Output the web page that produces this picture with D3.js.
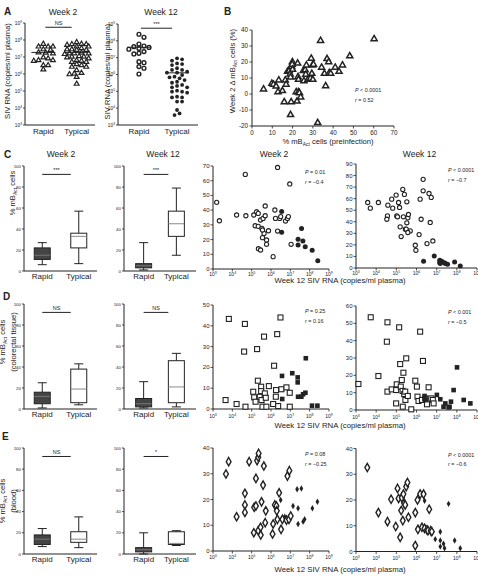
<!DOCTYPE html>
<html><head><meta charset="utf-8">
<script src="https://cdn.jsdelivr.net/npm/d3@7"></script>
<style>body{margin:0;background:#fff}svg{display:block}text{font-family:"Liberation Sans",Arial,Helvetica,sans-serif;fill:#222}</style>
</head><body><svg id="c" width="478" height="576"></svg>
<script>
// ---------------- DATA ----------------
const groups = ["Rapid", "Typical"];
const decadeTicks = [3, 4, 5, 6, 7, 8, 9];

// Panel A: log10 SIV RNA (copies/ml plasma)
const aW2Rapid = [7.77,7.61,7.45,7.61,7.41,7.61,7.27,7.21,7.25,6.91,6.81,6.81,6.97,6.51,6.51,6.26,6.77];
const aW2Typical = [7.87,7.75,7.75,7.61,7.71,7.77,7.51,7.45,7.41,7.41,7.45,7.25,7.21,7.17,7.21,7.05,6.97,7.01,6.91,7.01,6.81,6.71,6.71,6.77,6.51,6.42,6.42,6.22,6.02,5.98,5.82,6.06,5.42,6.57,7.21,7.61];
const aW12Rapid = [8.39,8.21,7.69,7.5,7.55,7.65,7.81,7.61,7.22,7.36,7.26,6.76,6.7,6.47,6.03,6.37];
const aW12Typical = [6.82,6.9,6.96,6.62,6.66,6.27,6.37,6.27,6.11,6.11,6.17,5.83,5.87,5.77,5.57,5.51,5.67,5.32,5.24,5.24,4.98,4.92,5.04,4.68,4.64,4.64,4.39,4.39,3.89,3.59,3.69,6.56,5.97,5.38,4.98];
const aMedianW2 = [7.27, 7.27];
const aMedianW12 = [7.62, 6.1];

// Panel B: % mBAct preinfection vs week 2 delta
const bX = [5.7,9.8,10.6,11.9,13.2,12.8,15,15.9,16.4,16.8,17.5,18.3,18.8,19,19,19.3,19.6,19.9,19.8,20,21.8,22.2,22.5,22.7,22.9,22.9,23.4,24,25.3,25.6,26.2,26.5,26.8,27.6,28.8,29.2,29.5,29.8,30,30.3,32.4,33.8,34.3,35.7,36.3,37,37.8,38.1,38.8,41,42.9,44.6,48.2,60.2];
const bY = [3,6.5,6,4.8,8.6,1.3,2,-5,8.6,6,14,14.5,12.4,10.5,-13,-5,17,20,18.5,15.3,1.3,-4.6,19.2,10.7,1.3,9,0.7,-2,14.5,8.2,15,12.2,18,9,9.7,22.2,12.8,18,9,18.5,-18,33.3,16.6,12.8,5,22,20,13.2,12.8,16.6,14,18,23.7,34.4];

// Box stats [min, q1, median, q3, max]
const cBoxW2 = [[6,11,15,22,27],[7,22,33,36,57]];
const cBoxW12 = [[1,3,5,7,27],[15,33,45,57,79]];
const dBoxW2 = [[1,5,12,16,25],[4,6,19,38,43]];
const dBoxW12 = [[1,2,5,10,26],[2,6,21,46,53]];
const eBoxW2 = [[7,9,14,18,24],[6,11,14,21,35]];
const eBoxW12 = [[0,2,4,6,20],[8,9,10,21,22]];
const sigLabels = {c:["***","***"], d:["NS","NS"], e:["NS","*"], a:["NS","***"]};

// Scatter: [log10 week 12 SIV RNA, % cells]
const cW2Typical = [[3.19,45.3],[3.33,32.8],[4.22,36.7],[4.67,64.3],[4.70,36.2],[5.11,36.7],[5.18,29.4],[5.25,38.9],[5.34,37.8],[5.35,13.8],[5.34,29],[5.46,33.3],[5.53,27.6],[5.46,12.9],[5.59,34.4],[5.64,24.2],[5.56,21.3],[5.56,26.5],[5.70,36.2],[5.70,42.8],[5.77,19.7],[5.77,16.8],[5.87,26],[6.11,8.4],[6.2,40.1],[6.23,34.4],[6.34,69],[6.34,25.8],[6.45,34.4],[6.5,35.6],[6.75,32.6],[6.85,34.4],[6.9,35.6],[6.97,57.8],[7.04,16.8]];
const cW2Rapid = [[6.55,39],[6.55,25],[7.58,27.5],[7.4,20.3],[7.4,16.3],[7.65,19],[7.77,15.2],[8.13,12.7],[8.42,5.6]];
const cW12Typical = [[3.58,56.7],[3.71,51.8],[4.11,56.7],[4.58,54.4],[4.56,45.1],[4.53,42.2],[4.77,59.6],[4.82,51.8],[4.99,63.1],[5.11,56.7],[5.02,45.1],[5.06,44.3],[5.16,52.4],[5.19,35.6],[5.24,27.2],[5.32,68],[5.35,44.3],[5.4,63.7],[5.45,33.6],[5.52,57.3],[5.57,43.4],[5.52,39.1],[5.49,33.6],[5.69,32.1],[5.57,30.7],[5.6,46.3],[5.94,19.7],[5.97,15.3],[6.13,28.9],[6.18,59.6],[6.23,42.2],[6.33,76.7],[6.33,66.8],[6.52,21.1],[6.62,64.5],[6.68,39.4],[6.73,61.1],[6.81,23.4]];
const cW12Rapid = [[6.35,5.8],[6.88,10.4],[7.15,6.7],[7.15,4.6],[7.25,5.8],[7.38,4.6],[7.43,3.8],[7.54,3.2],[7.89,5.2],[8.17,1.7],[7.18,3.8]];
const dW2Typical = [[3.65,4.3],[3.82,43.3],[4.22,2.4],[4.65,40.9],[4.61,27.6],[4.68,1.1],[5.08,8.3],[5.13,5.6],[5.28,28.8],[5.2,3.5],[5.32,13.6],[5.42,5.9],[5.49,10.7],[5.49,8.6],[5.51,4.3],[5.56,1.1],[5.64,34.8],[5.68,7.5],[5.73,5.4],[5.76,1.1],[5.89,11],[6.11,2.4],[6.16,20.8],[6.25,5.9],[6.32,36],[6.26,9.1],[6.37,1.4],[6.54,9.5],[6.49,44],[6.8,10.4],[6.97,1.1],[6.97,7.8]];
const dW2Rapid = [[6.57,15.9],[7.1,17.2],[7.38,15.2],[7.38,12.8],[6.58,4.8],[7.4,5.9],[7.57,5.9],[7.66,7.1],[7.78,7.8],[7.8,24.4],[8.12,1.6],[8.4,1.6]];
const dW12Typical = [[3.12,15],[3.73,53.5],[4.11,19.6],[4.56,10.6],[4.53,39.4],[4.56,50.6],[4.77,11.9],[4.99,11.5],[5.02,14.8],[5.14,47.7],[5.19,26.5],[5.22,13.5],[5.27,17.3],[5.31,11],[5.35,21.5],[5.39,9.2],[5.44,10.6],[5.49,29.8],[5.45,5.8],[5.32,1.9],[4.99,3.8],[5.57,8.1],[5.74,0.4],[5.94,16.9],[6.02,13.5],[6.05,7.7],[6.1,5.2],[6.18,45.2],[6.27,5.8],[6.32,28.3],[6.43,6.7],[6.52,3.3],[6.6,13.1],[6.73,6.7],[6.81,5.8],[6.85,3.8]];
const dW12Rapid = [[6.4,8.1],[6.43,5.8],[7.01,8.7],[7.18,6.2],[7.43,3.8],[7.34,1.9],[7.64,1.9],[7.71,4.8],[7.84,11.5],[8.01,24.6],[8.34,5.8],[8.67,3.8],[7.59,1.5]];
const eW2Typical = [[3.67,29.9],[3.81,34.7],[4.22,13.3],[4.65,22.4],[4.65,17.9],[4.65,15],[4.87,34.7],[5.11,7.1],[5.13,17],[5.22,17.5],[5.22,28.2],[5.28,35.1],[5.34,36.4],[5.36,37.9],[5.34,7.9],[5.46,9.2],[5.47,6.2],[5.51,19.1],[5.59,25.6],[5.63,33],[5.73,15.6],[5.7,11],[6.08,6.6],[6.11,10.5],[6.2,17.9],[6.28,17.5],[6.3,15.6],[6.33,12.3],[6.42,22.6],[6.52,8.4],[6.59,12.3],[6.8,12],[6.85,29.1],[6.93,12.3],[6.95,31.2],[7.02,13.6]];
const eW2Rapid = [[6.5,19.8],[7.14,17.5],[7.35,24],[7.57,24.3],[7.4,16.6],[6.71,13.3],[7.4,10.5],[7.66,11.4],[7.74,12.3],[8.14,16.6],[8.4,19.1]];
const eW12Typical = [[3.56,32.6],[4.11,15.1],[4.56,11.6],[4.74,20.3],[4.97,9.7],[5.06,24.5],[5.11,20.6],[5.19,5.5],[5.24,15.9],[5.27,20.9],[5.35,22.3],[5.32,12],[5.39,18.7],[5.44,18.1],[5.49,25.2],[5.55,26.8],[5.6,13.3],[5.94,15.1],[5.94,2.3],[6.05,20],[6.07,8.6],[6.18,22.3],[6.27,9.4],[6.35,22.3],[6.4,9],[6.52,8.4],[6.63,16.4],[6.57,8.1],[6.71,8.1],[6.76,7.7]];
const eW12Rapid = [[6.4,19.7],[6.93,4.8],[7.18,7.7],[7.18,4.3],[7.18,1.9],[7.34,3],[7.39,1.3],[7.59,18.5],[7.89,4.3],[8.17,1.3]];
const statText = {
  cW2:["P = 0.01","r = −0.4"], cW12:["P < 0.0001","r = −0.7"],
  dW2:["P = 0.25","r = 0.16"], dW12:["P < 0.001","r = −0.5"],
  eW2:["P = 0.08","r = −0.25"], eW12:["P < 0.0001","r = −0.6"],
  b:["P < 0.0001","r = 0.52"]
};

// ---------------- DRAWING ----------------
const svg = d3.select("#c");
const INK = "#222";

function txt(x, y, s, size, opts = {}) {
  const t = svg.append("text").attr("x", x).attr("y", y).attr("font-size", size)
    .attr("text-anchor", opts.anchor || "start");
  if (opts.bold) t.attr("font-weight", "bold");
  if (opts.rotate) t.attr("transform", `rotate(-90,${x},${y})`);
  return t.text(s);
}
function powText(x, y, exp, size, anchor) {
  const t = svg.append("text").attr("x", x).attr("y", y).attr("font-size", size).attr("text-anchor", anchor);
  t.append("tspan").text("10");
  t.append("tspan").attr("dy", -size * 0.4).attr("font-size", size * 0.7).text(String(exp));
  return t;
}
function rich(x, y, parts, size, opts = {}) {
  const t = svg.append("text").attr("x", x).attr("y", y).attr("font-size", size)
    .attr("text-anchor", opts.anchor || "middle");
  if (opts.rotate) t.attr("transform", `rotate(-90,${x},${y})`);
  let shift = 0;
  parts.forEach(p => {
    if (typeof p === "string") {
      t.append("tspan").attr("dy", -shift).text(p); shift = 0;
    } else if (p.sub) {
      t.append("tspan").attr("dy", size * 0.3).attr("font-size", size * 0.65).text(p.sub); shift = size * 0.3;
    } else if (p.it) {
      t.append("tspan").attr("dy", -shift).attr("font-style", "italic").text(p.it); shift = 0;
    }
  });
  return t;
}
function statLines(x, y, lines, size) {
  lines.forEach((l, i) => {
    const [a, ...rest] = l.split(" ");
    rich(x, y + i * size * 1.8, [{it: a}, " " + rest.join(" ")], size, {anchor: "start"});
  });
}
function line(x1, y1, x2, y2, w = 1, c = INK) {
  svg.append("line").attr("x1", x1).attr("y1", y1).attr("x2", x2).attr("y2", y2)
    .attr("stroke", c).attr("stroke-width", w);
}

// swarm layout for column dot plots (limited width, points may touch)
function swarm(vals, cx, y, r, maxOff) {
  const pts = vals.map(v => ({v, y: y(Math.pow(10, v))})).sort((a, b) => a.y - b.y);
  const placed = [];
  const d = 2 * r;
  const offs = [0];
  for (let i = 1; i < 30; i++) offs.push(i * r * 1.2, -i * r * 1.2);
  pts.forEach(p => {
    let best = null, bestScore = Infinity;
    for (const o of offs) {
      if (Math.abs(o) > maxOff) continue;
      const minD = placed.length ? Math.min(...placed.map(q => Math.hypot(q.x - (cx + o), q.y - p.y))) : Infinity;
      if (minD >= d) { best = o; break; }
      const score = -minD;
      if (score < bestScore) { bestScore = score; best = o; }
    }
    p.x = cx + best;
    placed.push(p);
  });
  return placed;
}

function symbolPath(type, size) { return d3.symbol().type(type).size(size)(); }

// ---- Panel A ----
function panelA(cfg) {
  const y = d3.scaleLog().domain([1e3, 1e9]).range([cfg.yb, cfg.yt]);
  const x = d3.scalePoint().domain(groups).range([cfg.x0, cfg.x1]).padding(0.55);
  line(cfg.x0, cfg.yt, cfg.x0, cfg.yb);
  line(cfg.x0, cfg.yb, cfg.x1, cfg.yb);
  decadeTicks.forEach(k => {
    const yy = y(Math.pow(10, k));
    line(cfg.x0 - 2, yy, cfg.x0, yy, 0.8);
    powText(cfg.x0 - 3, yy + 1.8, k, 4.8, "end");
  });
  groups.forEach(g => txt(x(g), cfg.yb + 9, g, 8, {anchor: "middle"}));
  txt((cfg.x0 + cfg.x1) / 2 + 3, 15, cfg.title, 8.5, {anchor: "middle"});
  txt(cfg.lx, (cfg.yt + cfg.yb) / 2 - 3, "SIV RNA (copies/ml plasma)", 7.6, {anchor: "middle", rotate: true});
  const sy = y(Math.pow(10, 8.75));
  line(x(groups[0]) + 2, sy, x(groups[1]) - 5, sy, 1);
  txt((x(groups[0]) + x(groups[1])) / 2 - 1.5, sy - 2.5, cfg.sig, 5.5, {anchor: "middle"});
  [cfg.rapid, cfg.typical].forEach((vals, i) => {
    const pts = swarm(vals, x(groups[i]), y, cfg.r, 12);
    const m = cfg.marks[i];
    pts.forEach(p => {
      if (m === "tri") {
        svg.append("path").attr("d", symbolPath(d3.symbolTriangle, 10))
          .attr("transform", `translate(${p.x},${p.y})`).attr("fill", "#fff").attr("stroke", INK).attr("stroke-width", 1.2);
      } else if (m === "ring") {
        svg.append("circle").attr("cx", p.x).attr("cy", p.y).attr("r", 1.9).attr("fill", "#fff").attr("stroke", INK).attr("stroke-width", 1.4);
      } else {
        svg.append("circle").attr("cx", p.x).attr("cy", p.y).attr("r", 1.9).attr("fill", INK);
      }
    });
    const my = y(Math.pow(10, cfg.medians[i]));
    line(x(groups[i]) - 12, my, x(groups[i]) + 12, my, 1);
  });
}
panelA({x0: 25, x1: 95, yt: 23, yb: 125, title: "Week 2", lx: 10, sig: sigLabels.a[0],
  rapid: aW2Rapid, typical: aW2Typical, marks: ["tri", "tri"], medians: aMedianW2, r: 2.0});
panelA({x0: 118, x1: 198, yt: 24, yb: 125, title: "Week 12", lx: 110, sig: sigLabels.a[1],
  rapid: aW12Rapid, typical: aW12Typical, marks: ["ring", "dot"], medians: aMedianW12, r: 2.1});
txt(4, 15, "A", 10, {bold: true});

// ---- Panel B ----
(function () {
  const x = d3.scaleLinear().domain([0, 70]).range([252, 394]);
  const y = d3.scaleLinear().domain([-20, 40]).range([126, 30]);
  line(252, 30, 252, 126); line(252, 126, 394, 126);
  d3.range(-20, 41, 10).forEach(v => { line(249.5, y(v), 252, y(v), 0.8); txt(248, y(v) + 2.2, String(v), 6.3, {anchor: "end"}); });
  d3.range(0, 71, 10).forEach(v => { line(x(v), 126, x(v), 128.5, 0.8); txt(x(v), 135, String(v), 6.3, {anchor: "middle"}); });
  rich(328, 144, ["% mB", {sub: "Act"}, " cells (preinfection)"], 7.6);
  rich(235, 71, ["Week 2 Δ mB", {sub: "Act"}, " cells (%)"], 7.6, {rotate: true});
  bX.forEach((v, i) => {
    svg.append("path").attr("d", symbolPath(d3.symbolTriangle, 16))
      .attr("transform", `translate(${x(v)},${y(bY[i])})`).attr("fill", "#fff").attr("stroke", INK).attr("stroke-width", 1.5);
  });
  statLines(355, 92, statText.b, 5.4);
  txt(224, 15, "B", 10, {bold: true});
})();

// ---- Box panels ----
function boxPanel(cfg) {
  const y = d3.scaleLinear().domain([0, 100]).range([cfg.yb, cfg.yt]);
  const x = d3.scalePoint().domain(groups).range([cfg.x0, cfg.x1]).padding(cfg.pad);
  line(cfg.x0, cfg.yt, cfg.x0, cfg.yb); line(cfg.x0, cfg.yb, cfg.x1, cfg.yb);
  d3.range(0, 101, 20).forEach(v => { line(cfg.x0 - 2, y(v), cfg.x0, y(v), 0.8); txt(cfg.x0 - 3, y(v) + 1.5, String(v), 4.4, {anchor: "end"}); });
  groups.forEach(g => txt(x(g), cfg.yb + 8, g, 8, {anchor: "middle"}));
  const sy = y(92);
  line(x(groups[0]), sy, x(groups[1]) - 8, sy, 1);
  txt((x(groups[0]) + x(groups[1]) - 8) / 2, sy - 2.5, cfg.sig, 5.5, {anchor: "middle"});
  cfg.stats.forEach((s, i) => {
    const cx = x(groups[i]), w = 16, cw = 9;
    const [mn, q1, md, q3, mx] = s;
    line(cx, y(mx), cx, y(q3), 1); line(cx, y(q1), cx, y(mn), 1);
    line(cx - cw / 2, y(mx), cx + cw / 2, y(mx), 1); line(cx - cw / 2, y(mn), cx + cw / 2, y(mn), 1);
    svg.append("rect").attr("x", cx - w / 2).attr("y", y(q3)).attr("width", w).attr("height", y(q1) - y(q3))
      .attr("fill", i === 0 ? "#444" : "#fff").attr("stroke", INK).attr("stroke-width", 1);
    line(cx - w / 2, y(md), cx + w / 2, y(md), 1, i === 0 ? "#777" : "#888");
  });
}
function scatterPanel(cfg) {
  const x = d3.scaleLog().domain([1e3, 1e9]).range([cfg.x0, cfg.x1]);
  const y = d3.scaleLinear().domain([0, cfg.ymax]).range([cfg.yb, cfg.yt]);
  line(cfg.x0, cfg.yt, cfg.x0, cfg.yb); line(cfg.x0, cfg.yb, cfg.x1, cfg.yb);
  d3.range(0, cfg.ymax + 1, 10).forEach(v => { line(cfg.x0 - 2.5, y(v), cfg.x0, y(v), 0.8); txt(cfg.x0 - 3.5, y(v) + 2, String(v), 6, {anchor: "end"}); });
  decadeTicks.forEach(k => { const xx = x(Math.pow(10, k)); line(xx, cfg.yb, xx, cfg.yb + 2.5, 0.8); powText(xx, cfg.yb + cfg.tk, k, 5, "middle"); });
  const draw = (pts, filled) => pts.forEach(([lx, v]) => {
    const px = x(Math.pow(10, lx)), py = y(v);
    if (cfg.mark === "circle") {
      if (filled) svg.append("circle").attr("cx", px).attr("cy", py).attr("r", 2.5).attr("fill", INK);
      else svg.append("circle").attr("cx", px).attr("cy", py).attr("r", 2.1).attr("fill", "#fff").attr("stroke", INK).attr("stroke-width", 1.1);
    } else if (cfg.mark === "square") {
      if (filled) svg.append("rect").attr("x", px - 2.3).attr("y", py - 2.3).attr("width", 4.6).attr("height", 4.6).attr("fill", INK);
      else svg.append("rect").attr("x", px - 2.5).attr("y", py - 2.5).attr("width", 5).attr("height", 5).attr("fill", "#fff").attr("stroke", INK).attr("stroke-width", 1.1);
    } else {
      if (filled) svg.append("path").attr("d", symbolPath(d3.symbolDiamond, 12)).attr("transform", `translate(${px},${py})`).attr("fill", INK);
      else svg.append("path").attr("d", symbolPath(d3.symbolDiamond, 20)).attr("transform", `translate(${px},${py})`).attr("fill", "#fff").attr("stroke", INK).attr("stroke-width", 1.4);
    }
  });
  draw(cfg.open, false); draw(cfg.filled, true);
  statLines(cfg.x0 + 92, cfg.yt + 8, cfg.stat, 5.4);
  if (cfg.title) txt((cfg.x0 + cfg.x1) / 2 + 3, 157, cfg.title, 8.5, {anchor: "middle"});
}

const rows = [
  {key: "c", yb: 271, yt: 166, boxes: [cBoxW2, cBoxW12], titled: true, tk: 7,
   sc: [{x0: 213, x1: 329, yb: 269, yt: 166, ymax: 70, open: cW2Typical, filled: cW2Rapid, stat: statText.cW2},
        {x0: 356, x1: 477, yb: 268, yt: 164, ymax: 90, open: cW12Typical, filled: cW12Rapid, stat: statText.cW12}],
   mark: "circle", xl: 283, letter: [4, 158]},
  {key: "d", yb: 409, yt: 304, boxes: [dBoxW2, dBoxW12], tk: 9,
   sc: [{x0: 213, x1: 329, yb: 409, yt: 305, ymax: 50, open: dW2Typical, filled: dW2Rapid, stat: statText.dW2},
        {x0: 356, x1: 477, yb: 410, yt: 306, ymax: 60, open: dW12Typical, filled: dW12Rapid, stat: statText.dW12}],
   mark: "square", xl: 428, letter: [3, 300]},
  {key: "e", yb: 554, yt: 448, boxes: [eBoxW2, eBoxW12], tk: 8,
   sc: [{x0: 213, x1: 329, yb: 551, yt: 448, ymax: 40, open: eW2Typical, filled: eW2Rapid, stat: statText.eW2},
        {x0: 356, x1: 477, yb: 551.5, yt: 448.5, ymax: 40, open: eW12Typical, filled: eW12Rapid, stat: statText.eW12}],
   mark: "diamond", xl: 572, letter: [2, 440]}
];
rows.forEach(r => {
  boxPanel({x0: 24, x1: 97, pad: 0.5, yb: r.yb, yt: r.yt, stats: r.boxes[0], sig: sigLabels[r.key][0]});
  boxPanel({x0: 124, x1: 196, pad: 0.6, yb: r.yb, yt: r.yt, stats: r.boxes[1], sig: sigLabels[r.key][1]});
  r.sc.forEach((s, i) => scatterPanel(Object.assign({mark: r.mark, tk: r.tk, title: r.titled ? ["Week 2", "Week 12"][i] : null}, s)));
  rich(340, r.xl, ["Week 12 SIV RNA (copies/ml plasma)"], 7.8);
  txt(r.letter[0], r.letter[1], r.key.toUpperCase(), 10, {bold: true});
});
// box titles (row C)
txt(61, 157, "Week 2", 8.5, {anchor: "middle"});
txt(163, 157, "Week 12", 8.5, {anchor: "middle"});
// box y labels
rich(15, 193, ["% mB", {sub: "Act"}, " cells"], 7.6, {rotate: true});
rich(5, 342, ["% mB", {sub: "Act"}, " cells"], 7.6, {rotate: true});
rich(16, 342, ["(colorectal tissue)"], 7.6, {rotate: true});
rich(5, 501, ["% mB", {sub: "Act"}, " cells"], 7.6, {rotate: true});
rich(16, 501, ["(blood)"], 7.6, {rotate: true});
</script></body></html>
